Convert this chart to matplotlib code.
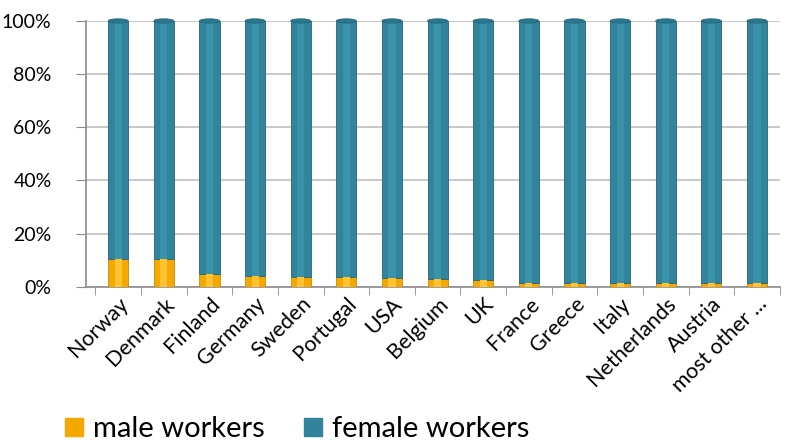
import matplotlib.pyplot as plt
from matplotlib.patches import Patch, Ellipse
from matplotlib.ticker import PercentFormatter

countries = ["Norway", "Denmark", "Finland", "Germany", "Sweden", "Portugal", "USA",
             "Belgium", "UK", "France", "Greece", "Italy", "Netherlands", "Austria",
             "most other ..."]
male_pct = [10.5, 10.3, 4.8, 4.0, 3.6, 3.5, 3.4, 2.8, 2.5, 1.4, 1.4, 1.4, 1.4, 1.4, 1.4]
female_pct = [100 - m for m in male_pct]

male_color = "#F5A800"
female_color = "#31849B"

plt.rcParams['font.family'] = ['Lato', 'DejaVu Sans']

fig = plt.figure(figsize=(7.99, 4.46), dpi=100)
ax = fig.add_axes([0.108, 0.357, 0.868, 0.596])

x = list(range(len(countries)))
w = 0.44
ax.bar(x, male_pct, width=w, color=male_color, edgecolor="#C98A00", linewidth=0.6, zorder=3)
ax.bar(x, female_pct, width=w, bottom=male_pct, color=female_color,
       edgecolor="#24667A", linewidth=0.6, zorder=3)
# lighter stripe to hint at the cylinder look
ax.bar(x, male_pct, width=w * 0.35, color="#FFC230", linewidth=0, zorder=4)
ax.bar(x, female_pct, width=w * 0.35, bottom=male_pct, color="#3A93AA", linewidth=0, zorder=4)
# rounded top caps
for xi, m, f in zip(x, male_pct, female_pct):
    ax.add_patch(Ellipse((xi, m + f), w, 1.6, facecolor="#2A7890",
                         edgecolor="#24667A", linewidth=0.6, zorder=5, clip_on=False))

ax.set_ylim(0, 100)
ax.set_xlim(-0.7, 14.3)
ax.set_yticks([0, 20, 40, 60, 80, 100])
ax.yaxis.set_major_formatter(PercentFormatter(decimals=0))
ax.grid(axis="y", color="#BFBFBF", linewidth=1.2, zorder=0)
ax.tick_params(axis="y", length=7, color="#8C8C8C", labelsize=14, pad=18)

ax.set_xticks(x)
ax.set_xticklabels(countries, rotation=45, ha="right", rotation_mode="anchor", fontsize=15.5)
ax.set_xticks([i + 0.5 for i in range(-1, len(countries))], minor=True)
ax.tick_params(axis="x", which="major", length=0, pad=5)
ax.tick_params(axis="x", which="minor", length=6, color="#8C8C8C")

for side in ["top", "right"]:
    ax.spines[side].set_visible(False)
ax.spines["left"].set_color("#8C8C8C")
ax.spines["bottom"].set_color("#8C8C8C")
ax.spines["left"].set_linewidth(1.2)
ax.spines["bottom"].set_linewidth(1.2)

handles = [Patch(color=male_color, label="male workers"),
           Patch(color=female_color, label="female workers")]
fig.legend(handles=handles, loc="lower left", bbox_to_anchor=(0.049, -0.05), ncol=2,
           frameon=False, fontsize=21, handlelength=0.6, handleheight=0.6,
           handletextpad=0.35, columnspacing=1.35)

fig.savefig("out.png", dpi=100)
